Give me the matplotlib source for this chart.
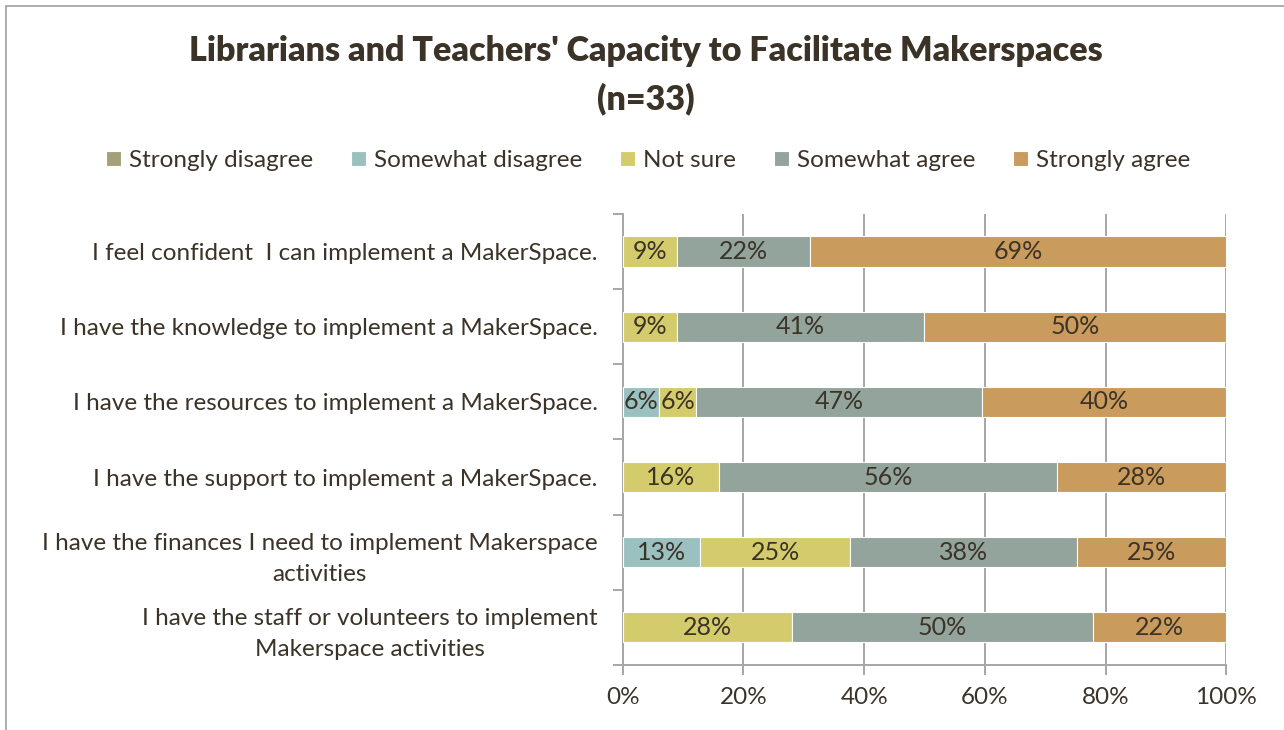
import numpy as np
import matplotlib
matplotlib.use("Agg")
import matplotlib.pyplot as plt
from matplotlib.patches import Rectangle

plt.rcParams['font.family'] = ['Lato', 'DejaVu Sans']

TEXT = '#3b3328'
GRID = '#a6a6a6'

statements = [
    "I feel confident  I can implement a MakerSpace.",
    "I have the knowledge to implement a MakerSpace.",
    "I have the resources to implement a MakerSpace.",
    "I have the support to implement a MakerSpace.",
    "I have the finances I need to implement Makerspace\nactivities",
    "I have the staff or volunteers to implement\nMakerspace activities",
]

responses = ["Strongly disagree", "Somewhat disagree", "Not sure",
             "Somewhat agree", "Strongly agree"]
colors = ['#a4a17a', '#9bc0c0', '#d4cc6c', '#93a49c', '#c99b5c']

# percent of respondents per answer, one list per response level
strongly_disagree = [0, 0, 0, 0, 0, 0]
somewhat_disagree = [0, 0, 6, 0, 13, 0]
not_sure = [9, 9, 6, 16, 25, 28]
somewhat_agree = [22, 41, 47, 56, 38, 50]
strongly_agree = [69, 50, 40, 28, 25, 22]

data = np.array([strongly_disagree, somewhat_disagree, not_sure,
                 somewhat_agree, strongly_agree], dtype=float)
# 100% stacked: each row scaled to its own total
shares = data / data.sum(axis=0) * 100

fig = plt.figure(figsize=(12.84, 7.30), dpi=100)
ax = fig.add_axes([0.485, 0.089, 0.470, 0.618])

# chart frame (top and left edges visible)
fig.patches.append(Rectangle((6 / 1284, -0.1), 1.2, 1 - 6 / 730 + 0.1,
                             transform=fig.transFigure, fill=False,
                             edgecolor='#a0a0a0', linewidth=1.2))

y = np.arange(len(statements))
left = np.zeros(len(statements))
for i, name in enumerate(responses):
    ax.barh(y, shares[i], left=left, height=0.4, color=colors[i],
            edgecolor='white', linewidth=0.8, label=name, zorder=3)
    for j, v in enumerate(data[i]):
        if v > 0:
            ax.text(left[j] + shares[i][j] / 2, y[j], f"{v:.0f}%",
                    ha='center', va='center', fontsize=18, color=TEXT,
                    zorder=4)
    left += shares[i]

ax.set_xlim(0, 100)
ax.set_ylim(len(statements) - 0.5, -0.5)
ax.set_xticks(np.arange(0, 101, 20))
ax.set_xticklabels([f"{t}%" for t in range(0, 101, 20)])
ax.set_yticks(y)
ax.set_yticklabels(statements, multialignment='center', linespacing=1.55)
ax.set_yticks(np.arange(-0.5, len(statements), 1), minor=True)

ax.grid(axis='x', color=GRID, linewidth=1.4, zorder=0)
for side in ['top', 'right']:
    ax.spines[side].set_visible(False)
for side in ['left', 'bottom']:
    ax.spines[side].set_color(GRID)
    ax.spines[side].set_linewidth(1.4)

ax.tick_params(axis='y', which='major', length=0, pad=18, labelsize=17.5,
               labelcolor=TEXT)
ax.tick_params(axis='y', which='minor', length=7, width=1.4, color=GRID)
ax.tick_params(axis='x', length=7, width=1.4, color=GRID, pad=9,
               labelsize=17.5, labelcolor=TEXT)

fig.text(0.503, 0.93, "Librarians and Teachers' Capacity to Facilitate Makerspaces",
         ha='center', va='center', fontsize=24.5, fontweight='heavy', color=TEXT)
fig.text(0.503, 0.865, "(n=33)", ha='center', va='center', fontsize=24.5,
         fontweight='heavy', color=TEXT)

fig.legend(loc='center', bbox_to_anchor=(0.505, 0.78), ncol=5, frameon=False,
           fontsize=17.5, labelcolor=TEXT, handlelength=0.6, handleheight=0.6,
           handletextpad=0.35, columnspacing=1.55)

fig.savefig('out.png', dpi=100)
